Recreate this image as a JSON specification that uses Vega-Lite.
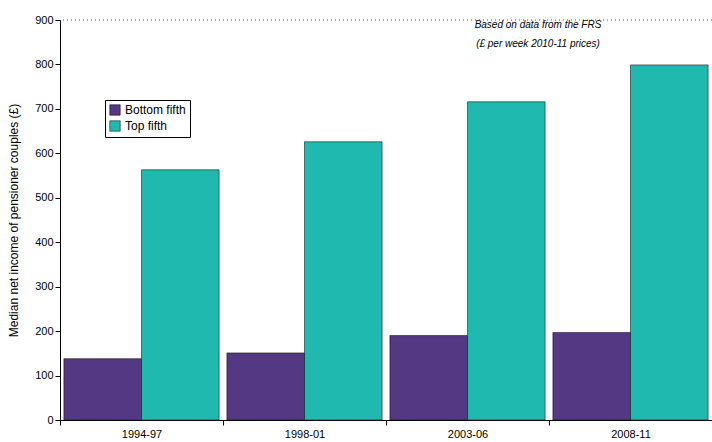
{
  "$schema": "https://vega.github.io/schema/vega-lite/v6.json",
  "width": 652,
  "height": 400,
  "padding": {"left": 60, "top": 20, "right": 0, "bottom": 22},
  "autosize": {"type": "none"},
  "config": {
    "font": "Liberation Sans",
    "view": {"stroke": null},
    "axis": {"labelFont": "Liberation Sans", "titleFont": "Liberation Sans", "labelFontSize": 11, "titleFontSize": 12, "titleFontWeight": "normal", "labelColor": "black", "titleColor": "black", "domainColor": "black", "tickColor": "black"}
  },
  "layer": [
    {
      "data": {"values": [{}]},
      "mark": {"type": "rule", "strokeDash": [1, 3], "color": "#555"},
      "encoding": {"y": {"datum": 900, "type": "quantitative"}}
    },
    {
      "data": {
        "values": [
          {"period": "1994-97", "group": "Bottom fifth", "income": 138},
          {"period": "1994-97", "group": "Top fifth", "income": 563},
          {"period": "1998-01", "group": "Bottom fifth", "income": 151},
          {"period": "1998-01", "group": "Top fifth", "income": 626},
          {"period": "2003-06", "group": "Bottom fifth", "income": 190},
          {"period": "2003-06", "group": "Top fifth", "income": 716},
          {"period": "2008-11", "group": "Bottom fifth", "income": 197},
          {"period": "2008-11", "group": "Top fifth", "income": 799}
        ]
      },
      "mark": {"type": "bar", "stroke": "black", "strokeWidth": 0.5},
      "encoding": {
        "x": {"field": "period", "type": "nominal", "title": null, "scale": {"paddingInner": 0, "paddingOuter": 0},
          "axis": {"labelAngle": 0, "ticks": true, "tickBand": "extent", "labelPadding": 3}},
        "xOffset": {"field": "group", "type": "nominal", "scale": {"paddingInner": 0, "paddingOuter": 0.05}},
        "y": {"field": "income", "type": "quantitative", "title": "Median net income of pensioner couples (£)",
          "scale": {"domain": [0, 900]}, "axis": {"tickCount": 9, "grid": false, "titlePadding": 14}},
        "color": {"field": "group", "type": "nominal",
          "scale": {"domain": ["Bottom fifth", "Top fifth"], "range": ["#553883", "#20b9b0"]},
          "legend": {"title": null, "orient": "none", "legendX": 45, "legendY": 80, "symbolType": "square", "symbolSize": 110, "symbolStrokeColor": "black", "symbolStrokeWidth": 0.5, "labelFontSize": 12, "labelFont": "Liberation Sans", "strokeColor": "black", "fillColor": "white", "padding": 4}}
      }
    },
    {
      "data": {"values": [{}]},
      "mark": {"type": "text", "fontStyle": "italic", "fontWeight": "normal", "fontSize": 10, "align": "center", "lineHeight": 19, "baseline": "top"},
      "encoding": {
        "text": {"value": ["Based on data from the FRS", "(£ per week 2010-11 prices)"]},
        "x": {"value": 478},
        "y": {"value": 0}
      }
    }
  ]
}
